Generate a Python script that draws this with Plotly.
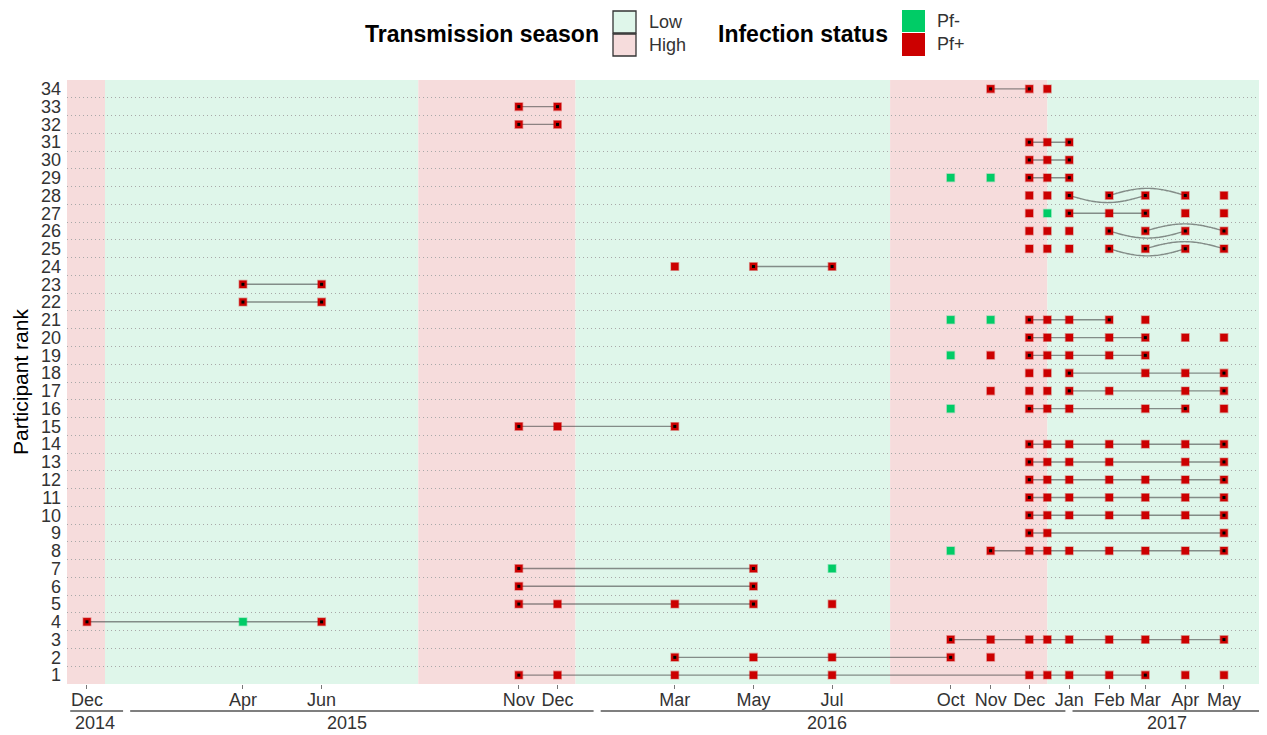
import math
from datetime import datetime, timedelta
import plotly.graph_objects as go

# ---------------- data ----------------
# visit dates per participant rank (index 0 -> rank 1)
visit_dates = [
    ["2015-11-01", "2015-12-01", "2016-03-01", "2016-05-01", "2016-07-01", "2016-12-01", "2016-12-15", "2017-01-01", "2017-02-01", "2017-03-01", "2017-04-01", "2017-05-01"],  # 1
    ["2016-03-01", "2016-05-01", "2016-07-01", "2016-10-01", "2016-11-01"],  # 2
    ["2016-10-01", "2016-11-01", "2016-12-01", "2016-12-15", "2017-01-01", "2017-02-01", "2017-03-01", "2017-04-01", "2017-05-01"],  # 3
    ["2014-12-01", "2015-04-01", "2015-06-01"],  # 4
    ["2015-11-01", "2015-12-01", "2016-03-01", "2016-05-01", "2016-07-01"],  # 5
    ["2015-11-01", "2016-05-01"],  # 6
    ["2015-11-01", "2016-05-01", "2016-07-01"],  # 7
    ["2016-10-01", "2016-11-01", "2016-12-01", "2016-12-15", "2017-01-01", "2017-02-01", "2017-03-01", "2017-04-01", "2017-05-01"],  # 8
    ["2016-12-01", "2016-12-15", "2017-05-01"],  # 9
    ["2016-12-01", "2016-12-15", "2017-01-01", "2017-02-01", "2017-03-01", "2017-04-01", "2017-05-01"],  # 10
    ["2016-12-01", "2016-12-15", "2017-01-01", "2017-02-01", "2017-03-01", "2017-04-01", "2017-05-01"],  # 11
    ["2016-12-01", "2016-12-15", "2017-01-01", "2017-02-01", "2017-03-01", "2017-04-01", "2017-05-01"],  # 12
    ["2016-12-01", "2016-12-15", "2017-01-01", "2017-02-01", "2017-04-01", "2017-05-01"],  # 13
    ["2016-12-01", "2016-12-15", "2017-01-01", "2017-02-01", "2017-03-01", "2017-04-01", "2017-05-01"],  # 14
    ["2015-11-01", "2015-12-01", "2016-03-01"],  # 15
    ["2016-10-01", "2016-12-01", "2016-12-15", "2017-01-01", "2017-03-01", "2017-04-01", "2017-05-01"],  # 16
    ["2016-11-01", "2016-12-01", "2016-12-15", "2017-01-01", "2017-02-01", "2017-04-01", "2017-05-01"],  # 17
    ["2016-12-01", "2016-12-15", "2017-01-01", "2017-03-01", "2017-04-01", "2017-05-01"],  # 18
    ["2016-10-01", "2016-11-01", "2016-12-01", "2016-12-15", "2017-01-01", "2017-02-01", "2017-03-01"],  # 19
    ["2016-12-01", "2016-12-15", "2017-01-01", "2017-02-01", "2017-03-01", "2017-04-01", "2017-05-01"],  # 20
    ["2016-10-01", "2016-11-01", "2016-12-01", "2016-12-15", "2017-01-01", "2017-02-01", "2017-03-01"],  # 21
    ["2015-04-01", "2015-06-01"],  # 22
    ["2015-04-01", "2015-06-01"],  # 23
    ["2016-03-01", "2016-05-01", "2016-07-01"],  # 24
    ["2016-12-01", "2016-12-15", "2017-01-01", "2017-02-01", "2017-03-01", "2017-04-01", "2017-05-01"],  # 25
    ["2016-12-01", "2016-12-15", "2017-01-01", "2017-02-01", "2017-03-01", "2017-04-01", "2017-05-01"],  # 26
    ["2016-12-01", "2016-12-15", "2017-01-01", "2017-02-01", "2017-03-01", "2017-04-01", "2017-05-01"],  # 27
    ["2016-12-01", "2016-12-15", "2017-01-01", "2017-02-01", "2017-03-01", "2017-04-01", "2017-05-01"],  # 28
    ["2016-10-01", "2016-11-01", "2016-12-01", "2016-12-15", "2017-01-01"],  # 29
    ["2016-12-01", "2016-12-15", "2017-01-01"],  # 30
    ["2016-12-01", "2016-12-15", "2017-01-01"],  # 31
    ["2015-11-01", "2015-12-01"],  # 32
    ["2015-11-01", "2015-12-01"],  # 33
    ["2016-11-01", "2016-12-01", "2016-12-15"],  # 34
]
# infection status per visit ('+' = Pf+, '-' = Pf-)
visit_status = [
    "++++++++++++",  # 1
    "+++++",  # 2
    "+++++++++",  # 3
    "+-+",  # 4
    "+++++",  # 5
    "++",  # 6
    "++-",  # 7
    "-++++++++",  # 8
    "+++",  # 9
    "+++++++",  # 10
    "+++++++",  # 11
    "+++++++",  # 12
    "++++++",  # 13
    "+++++++",  # 14
    "+++",  # 15
    "-++++++",  # 16
    "+++++++",  # 17
    "++++++",  # 18
    "-++++++",  # 19
    "+++++++",  # 20
    "--+++++",  # 21
    "++",  # 22
    "++",  # 23
    "+++",  # 24
    "+++++++",  # 25
    "+++++++",  # 26
    "+-+++++",  # 27
    "+++++++",  # 28
    "--+++",  # 29
    "+++",  # 30
    "+++",  # 31
    "++",  # 32
    "++",  # 33
    "+++",  # 34
]

# links between matching infections (bend: 0 straight, -1 curve down, +1 curve up)
link_rank = [1, 2, 3, 4, 5, 6, 7, 8, 9, 10, 11, 12, 13, 14, 15, 16, 17, 18, 19, 20, 21, 22, 23, 24,
             25, 25, 26, 26, 27, 28, 28, 29, 30, 31, 32, 33, 34]
link_from = ["2015-11-01", "2016-03-01", "2016-10-01", "2014-12-01", "2015-11-01", "2015-11-01", "2015-11-01",
             "2016-11-01", "2016-12-01", "2016-12-01", "2016-12-01", "2016-12-01", "2016-12-01", "2016-12-01",
             "2015-11-01", "2016-12-01", "2017-01-01", "2017-01-01", "2016-12-01", "2016-12-01", "2016-12-01",
             "2015-04-01", "2015-04-01", "2016-05-01",
             "2017-02-01", "2017-03-01", "2017-02-01", "2017-03-01", "2017-01-01", "2017-01-01", "2017-02-01",
             "2016-12-01", "2016-12-01", "2016-12-01", "2015-11-01", "2015-11-01", "2016-11-01"]
link_to = ["2017-03-01", "2016-10-01", "2017-05-01", "2015-06-01", "2016-05-01", "2016-05-01", "2016-05-01",
           "2017-05-01", "2017-05-01", "2017-05-01", "2017-05-01", "2017-05-01", "2017-05-01", "2017-05-01",
           "2016-03-01", "2017-04-01", "2017-05-01", "2017-05-01", "2017-03-01", "2017-03-01", "2017-02-01",
           "2015-06-01", "2015-06-01", "2016-07-01",
           "2017-04-01", "2017-05-01", "2017-04-01", "2017-05-01", "2017-03-01", "2017-03-01", "2017-04-01",
           "2017-01-01", "2017-01-01", "2017-01-01", "2015-12-01", "2015-12-01", "2016-12-01"]
link_bend = [0] * 24 + [-1, 1, -1, 1, 0, -1, 1] + [0] * 6

# transmission seasons
season_start = ["2014-08-15", "2014-12-15", "2015-08-15", "2015-12-15", "2016-08-15", "2016-12-15"]
season_end = ["2014-12-15", "2015-08-15", "2015-12-15", "2016-08-15", "2016-12-15", "2017-08-15"]
season_kind = ["High", "Low", "High", "Low", "High", "Low"]

# axis ticks
month_ticks = ["2014-12-01", "2015-04-01", "2015-06-01", "2015-11-01", "2015-12-01", "2016-03-01",
               "2016-05-01", "2016-07-01", "2016-10-01", "2016-11-01", "2016-12-01", "2017-01-01",
               "2017-02-01", "2017-03-01", "2017-04-01", "2017-05-01"]
month_labels = ["Dec", "Apr", "Jun", "Nov", "Dec", "Mar", "May", "Jul", "Oct", "Nov", "Dec", "Jan",
                "Feb", "Mar", "Apr", "May"]
years = [2014, 2015, 2016, 2017]
year_label_dates = ["2014-12-07", "2015-06-21", "2016-06-27", "2017-03-18"]
x_range = ["2014-11-15 12:00", "2017-05-30 12:00"]
n_ranks = 34

# ---------------- styles ----------------
# the page body has an 8px margin: lay out in window pixels, figure starts at (8, 8)
OFF = 8
WIN_W, WIN_H = 1267, 735
PL, PR, PT, PB = 67, 1262, 80, 684          # plot area in window pixels
W, H = WIN_W - OFF, WIN_H - OFF
ML, MR, MT, MB = PL - OFF, WIN_W - PR, PT - OFF, WIN_H - PB
PW, PH = PR - PL, PB - PT
FONT = "Liberation Sans, Arial, sans-serif"
RED = "#CC0000"
GREEN = "#00CC66"
SEASON_FILL = {"Low": "#DFF6EA", "High": "#F6DCDC"}
TXT = "#333333"


def px(x):
    return (x - PL) / PW


def py(y):
    return (PB - y) / PH


def d(s):
    return datetime.fromisoformat(s)


fig = go.Figure()

# links
sx, sy, cx, cy = [], [], [], []
for r, a, b, bend in zip(link_rank, link_from, link_to, link_bend):
    da, db = d(a), d(b)
    if bend == 0:
        sx += [da, db, None]
        sy += [r, r, None]
    else:
        span = (db - da).total_seconds()
        for i in range(41):
            t = i / 40
            cx.append(da + timedelta(seconds=span * t))
            cy.append(r + bend * 0.40 * math.sin(math.pi * t))
        cx.append(None)
        cy.append(None)

line_style = dict(color="rgba(70,70,70,0.6)", width=1.4)
fig.add_trace(go.Scatter(x=sx, y=sy, mode="lines", line=line_style, hoverinfo="skip", showlegend=False))
fig.add_trace(go.Scatter(x=cx, y=cy, mode="lines", line=dict(line_style, shape="spline"),
                         hoverinfo="skip", showlegend=False))

# visits
for status, col in (("-", GREEN), ("+", RED)):
    xs, ys = [], []
    for i, (dates, sts) in enumerate(zip(visit_dates, visit_status)):
        for dt, s in zip(dates, sts):
            if s == status:
                xs.append(dt)
                ys.append(i + 1)
    rgb = tuple(int(col[k:k + 2], 16) for k in (1, 3, 5))
    fig.add_trace(go.Scatter(
        x=xs, y=ys, mode="markers", showlegend=False,
        marker=dict(symbol="square", size=7.5, color=col,
                    line=dict(width=1.5, color="rgba(%d,%d,%d,0.35)" % rgb)),
    ))

# link endpoints
ex, ey = [], []
for r, a, b in zip(link_rank, link_from, link_to):
    ex += [a, b]
    ey += [r, r]
fig.add_trace(go.Scatter(x=ex, y=ey, mode="markers", showlegend=False, hoverinfo="skip",
                         marker=dict(symbol="square", size=3, color="black")))

shapes = []
# season backgrounds
for s0, s1, k in zip(season_start, season_end, season_kind):
    a = max(d(s0), d(x_range[0]))
    b = min(d(s1), d(x_range[1]))
    if a >= b:
        continue
    shapes.append(dict(type="rect", xref="x", yref="y", x0=a, x1=b, y0=0.5, y1=n_ranks + 0.5,
                       fillcolor=SEASON_FILL[k], line=dict(width=0), layer="below"))

# year lines and labels
annotations = []
for yr, lab in zip(years, year_label_dates):
    a = max(datetime(yr, 1, 1), d(x_range[0])) + timedelta(days=2.5)
    b = min(datetime(yr, 12, 31), d(x_range[1]))
    if yr != years[-1]:
        b = b - timedelta(days=2)
    shapes.append(dict(type="line", xref="x", yref="paper", x0=a, x1=b, y0=py(711), y1=py(711),
                       line=dict(color="#555555", width=1.6)))
    annotations.append(dict(xref="x", yref="paper", x=lab, y=py(723), text=str(yr), showarrow=False,
                            font=dict(family=FONT, size=18, color=TXT), xanchor="center",
                            yanchor="middle"))

# custom legend
annotations.append(dict(xref="paper", yref="paper", x=px(601), y=py(34), text="<b>Transmission season</b>",
                        showarrow=False, xanchor="right", yanchor="middle",
                        font=dict(family=FONT, size=23, color="black")))
for k, (y0, y1) in zip(["Low", "High"], [(11, 33), (34, 56)]):
    shapes.append(dict(type="rect", xref="paper", yref="paper", x0=px(613), x1=px(636), y0=py(y1), y1=py(y0),
                       fillcolor=SEASON_FILL[k], line=dict(color="#333333", width=1.3)))
    annotations.append(dict(xref="paper", yref="paper", x=px(647), y=py((y0 + y1) / 2), text=k,
                            showarrow=False, xanchor="left", yanchor="middle",
                            font=dict(family=FONT, size=18, color=TXT)))
annotations.append(dict(xref="paper", yref="paper", x=px(890), y=py(34), text="<b>Infection status</b>",
                        showarrow=False, xanchor="right", yanchor="middle",
                        font=dict(family=FONT, size=23, color="black")))
for lab, col, (y0, y1) in zip(["Pf-", "Pf+"], [GREEN, RED], [(10, 32), (33, 56)]):
    shapes.append(dict(type="rect", xref="paper", yref="paper", x0=px(902), x1=px(925), y0=py(y1), y1=py(y0),
                       fillcolor=col, line=dict(width=0)))
    annotations.append(dict(xref="paper", yref="paper", x=px(935), y=py((y0 + y1) / 2), text=lab,
                            showarrow=False, xanchor="left", yanchor="middle",
                            font=dict(family=FONT, size=18, color=TXT)))

fig.update_layout(
    width=W, height=H,
    margin=dict(l=ML, r=MR, t=MT, b=MB, autoexpand=False),
    paper_bgcolor="white", plot_bgcolor="white",
    font=dict(family=FONT),
    shapes=shapes, annotations=annotations,
    showlegend=False,
    xaxis=dict(type="date", range=x_range, tickvals=month_ticks, ticktext=month_labels,
               ticks="outside", ticklen=4, tickcolor="#777777", tickwidth=1,
               showgrid=False, zeroline=False, showline=False, ticklabelstandoff=-5,
               tickfont=dict(family=FONT, size=18, color=TXT)),
    yaxis=dict(range=[0.5, n_ranks + 0.5], tickvals=list(range(1, n_ranks + 1)),
               ticktext=[str(i) for i in range(1, n_ranks + 1)],
               showgrid=False, zeroline=False, showline=False, ticks="", ticklen=0,
               ticklabelstandoff=5,
               tickfont=dict(family=FONT, size=18, color=TXT),
               title=dict(text="Participant rank", font=dict(family=FONT, size=21, color="black"), standoff=6),
               minor=dict(tick0=0.5, dtick=1, showgrid=True, gridcolor="#a8a8a8", griddash="1px,3px",
                          gridwidth=1),
               automargin=False),
)

fig.write_html("out.html")
